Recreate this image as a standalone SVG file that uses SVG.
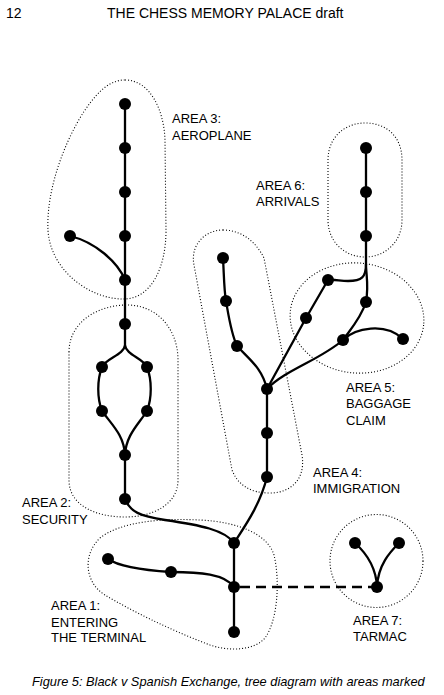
<svg xmlns="http://www.w3.org/2000/svg" width="444" height="695" viewBox="0 0 444 695">
<style>
text{font-family:"Liberation Sans",Arial,sans-serif;fill:#000}
.lbl{font-size:13px}
.hdr{font-size:14px}
.cap{font-size:12.8px;font-style:italic}
.area{fill:none;stroke:#000;stroke-width:1.1;stroke-dasharray:1 2}
.e{fill:none;stroke:#000;stroke-width:2.3}
.d{fill:none;stroke:#000;stroke-width:2.3;stroke-dasharray:10 6}
.n{fill:#000}
</style>
<rect width="444" height="695" fill="#fff"/>
<text class="hdr" x="6" y="18">12</text>
<text class="hdr" x="107" y="18">THE CHESS MEMORY PALACE draft</text>

<g id="areas">
<path id="area3" class="area" d="M125,80 C150,80 164,110 165,140 L166,230 C166,270 150,298 125,299 C90,300 50,270 48,230 C46,190 65,140 85,110 C100,88 112,80 125,80 Z"/>
<path id="area2" class="area" d="M69,352 C69,322 98,305 127,305 C158,305 178,330 178,360 L178,480 C178,505 152,517 125,517 C95,517 69,505 69,480 Z"/>
<path id="area4" class="area" d="M223,230 C240,230 255,240 264,258 L302,455 C306,480 290,493 270,493 C250,493 238,485 232,470 L194,265 C190,245 205,230 223,230 Z"/>
<path id="area6" class="area" d="M328,160 C328,137 345,123 365,123 C387,123 402,137 402,160 L402,220 C402,242 385,257 365,257 C345,257 328,242 328,220 Z"/>
<ellipse id="area5" class="area" cx="357" cy="318" rx="67" ry="55" transform="rotate(6 357 318)"/>
<path id="area1" class="area" d="M100,538 C120,522 160,518 200,520 C240,522 268,535 274,555 C280,580 278,620 265,638 C255,650 230,652 210,645 C170,630 130,610 105,595 C85,583 82,555 100,538 Z"/>
<circle id="area7" class="area" cx="376.5" cy="561" r="46.5"/>
</g>

<g id="connectors">
<path class="e" d="M125,104 L125,324"/>
<path class="e" d="M70,236 C95,242 118,262 125,280"/>
<path class="e" d="M125,324 L125,345 C124,355 106,358 102,367"/>
<path class="e" d="M125,345 C126,355 143,358 147,367"/>
<path class="e" d="M102,367 C97,380 97,398 102,411"/>
<path class="e" d="M147,367 C152,380 152,398 147,411"/>
<path class="e" d="M102,411 C112,425 124,435 125,455"/>
<path class="e" d="M147,411 C138,425 126,435 125,455"/>
<path class="e" d="M125,455 L125,499"/>
<path class="e" d="M125,499 C130,512 140,516 165,520 C200,525 225,530 234,543"/>
<path class="e" d="M234,543 C245,526 260,505 267,477"/>
<path class="e" d="M267,477 L267,389"/>
<path class="e" d="M223,258 C224,275 224,290 226,301"/>
<path class="e" d="M226,301 C229,318 231,333 237,346"/>
<path class="e" d="M237,346 C250,360 262,368 267,389"/>
<path class="e" d="M267,389 L306,318 L328,280"/>
<path class="e" d="M267,389 C285,370 320,360 343,340"/>
<path class="e" d="M366,148 L366,264 C366,277 362,281 348,281 C340,281 334,279 328,280"/>
<path class="e" d="M366,264 C366,275 369,285 366,302"/>
<path class="e" d="M366,302 C361,318 350,330 343,340"/>
<path class="e" d="M343,340 C355,328 385,322 403,339"/>
<path class="e" d="M234,543 L234,632"/>
<path class="e" d="M108,559 C118,566 140,570 171,572"/>
<path class="e" d="M171,572 C200,572 225,574 234,587"/>
<path class="d" d="M240,587 L377,587"/>
<path class="e" d="M355,543 C365,552 376,565 377,587"/>
<path class="e" d="M399,543 C390,552 378,565 377,587"/>
</g>

<g id="nodes">
<g id="a3"><circle class="n" cx="125" cy="104" r="6"/><circle class="n" cx="125" cy="148" r="6"/><circle class="n" cx="125" cy="192" r="6"/><circle class="n" cx="125" cy="236" r="6"/><circle class="n" cx="125" cy="280" r="6"/><circle class="n" cx="70" cy="236" r="6"/></g>
<g id="a2"><circle class="n" cx="125" cy="324" r="6"/><circle class="n" cx="102" cy="367" r="6"/><circle class="n" cx="147" cy="367" r="6"/><circle class="n" cx="102" cy="411" r="6"/><circle class="n" cx="147" cy="411" r="6"/><circle class="n" cx="125" cy="455" r="6"/><circle class="n" cx="125" cy="499" r="6"/></g>
<g id="a4"><circle class="n" cx="223" cy="258" r="6"/><circle class="n" cx="226" cy="301" r="6"/><circle class="n" cx="237" cy="346" r="6"/><circle class="n" cx="267" cy="389" r="6"/><circle class="n" cx="267" cy="433" r="6"/><circle class="n" cx="267" cy="477" r="6"/></g>
<g id="a5"><circle class="n" cx="328" cy="280" r="6"/><circle class="n" cx="306" cy="318" r="6"/><circle class="n" cx="366" cy="302" r="6"/><circle class="n" cx="343" cy="340" r="6"/><circle class="n" cx="403" cy="339" r="6"/></g>
<g id="a6"><circle class="n" cx="366" cy="148" r="6"/><circle class="n" cx="366" cy="192" r="6"/><circle class="n" cx="366" cy="236" r="6"/></g>
<g id="a1"><circle class="n" cx="234" cy="543" r="6"/><circle class="n" cx="108" cy="559" r="6"/><circle class="n" cx="171" cy="572" r="6"/><circle class="n" cx="234" cy="587" r="6"/><circle class="n" cx="234" cy="632" r="6"/></g>
<g id="a7"><circle class="n" cx="355" cy="543" r="6"/><circle class="n" cx="399" cy="543" r="6"/><circle class="n" cx="377" cy="587" r="6"/></g>
</g>

<g id="labels">
<text class="lbl" x="172" y="123">AREA 3:</text>
<text class="lbl" x="172" y="140">AEROPLANE</text>
<text class="lbl" x="256" y="190">AREA 6:</text>
<text class="lbl" x="256" y="206">ARRIVALS</text>
<text class="lbl" x="346" y="391.5">AREA 5:</text>
<text class="lbl" x="346" y="408">BAGGAGE</text>
<text class="lbl" x="346" y="424.5">CLAIM</text>
<text class="lbl" x="313" y="477">AREA 4:</text>
<text class="lbl" x="313" y="493">IMMIGRATION</text>
<text class="lbl" x="22" y="507">AREA 2:</text>
<text class="lbl" x="22" y="524">SECURITY</text>
<text class="lbl" x="51" y="610">AREA 1:</text>
<text class="lbl" x="51" y="626.5">ENTERING</text>
<text class="lbl" x="51" y="642">THE TERMINAL</text>
<text class="lbl" x="353" y="624.5">AREA 7:</text>
<text class="lbl" x="353" y="641">TARMAC</text>
</g>

<text class="cap" x="32" y="686">Figure 5: Black v Spanish Exchange, tree diagram with areas marked</text>
</svg>
